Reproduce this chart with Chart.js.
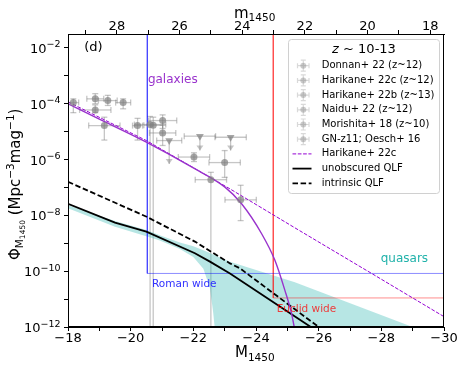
<!DOCTYPE html>
<html>
<head>
<meta charset="utf-8">
<script src="https://cdn.jsdelivr.net/npm/chart.js@4.4.0/dist/chart.umd.min.js"></script>
<style>
  html, body { margin: 0; padding: 0; background: #fff; }
  #wrap { width: 463px; height: 367px; }
</style>
</head>
<body>
<div id="wrap"><canvas id="lf"></canvas></div>
<script>
// axis ranges
const xMin = -30, xMax = -18;
const yMin = 1e-12, yMax = Math.pow(10, -1.5);
const mOffset = 47.56; // m1450 = M1450 + offset
const yLabelExp = [-12, -10, -8, -6, -4, -2];

// galaxy UV LF fit (solid purple)
const galFitM = [-18, -19, -20.5, -22, -23, -23.54, -24.18, -24.6, -24.92, -25.13, -25.22];
const galFitPhi = [1.0e-4, 2.8e-5, 4.2e-6, 5.0e-7, 1.05e-7, 2.6e-8, 2.2e-9, 2.5e-10, 2.1e-11, 3.2e-12, 1e-12];

// Harikane+ 22c double power law (dashed purple)
const harFitM = [-18, -20.5, -23.17, -25.4, -27.69, -30];
const harFitPhi = [1.17e-4, 4.8e-6, 8.9e-8, 2.8e-9, 8.3e-11, 2.35e-12];

// QLFs
const unobsM = [-18, -19.5, -20.5, -22.05, -22.53, -23.17, -25.75];
const unobsPhi = [2.6e-8, 5.5e-9, 2.6e-9, 4.4e-10, 2.2e-10, 8.3e-11, 1e-12];
const intrM = [-18, -20.51, -22.05, -23.17, -23.49, -26.0];
const intrPhi = [1.6e-7, 8.9e-9, 1.15e-9, 1.9e-10, 1.26e-10, 1e-12];

// quasar uncertainty band
const bandM = [-18, -19.5, -20.5, -20.93, -21.57, -22.0, -22.32, -22.53, -22.63, -22.68, -22.72, -23.17, -25.24, -29, -30];
const bandHi = [2.3e-8, 6.3e-9, 3.0e-9, 1.95e-9, 1.07e-9, 7.8e-10, 5.6e-10, 4.5e-10, 4.0e-10, 3.8e-10, 3.6e-10, 2.2e-10, 4.0e-11, 1e-12, 4e-13];
const bandLo = [1.8e-8, 3.9e-9, 1.8e-9, 1.26e-9, 6.3e-10, 3.2e-10, 1.23e-10, 2.5e-11, 3.6e-12, 1e-12, 1e-13, 1e-13, 1e-13, 1e-13, 1e-13];

// survey limits
const romanM = [-20.53, -20.53, -30];
const romanPhi = [yMax, 8.3e-11, 8.3e-11];
const euclidM = [-24.55, -24.55, -30];
const euclidPhi = [yMax, 1.1e-11, 1.1e-11];

// observed galaxy LF points (0 in Lo = error bar down to zero)
const donnanM = [-18.17, -18.87, -19.27, -19.76];
const donnanPhi = [1.1e-4, 1.5e-4, 1.3e-4, 1.1e-4];
const donnanDM = [0.17, 0.27, 0.30, 0.24];
const donnanLo = [4.8e-5, 1.0e-4, 8.7e-5, 6.6e-5];
const donnanHi = [1.5e-4, 2.3e-4, 2.0e-4, 1.5e-4];

const harCM = [-18.87, -19.16, -20.62];
const harCPhi = [6.0e-5, 1.65e-5, 1.8e-5];
const harCDM = [0.5, 0.5, 0.5];
const harCLo = [4.8e-5, 5.0e-6, 0];
const harCHi = [9.1e-5, 3.3e-5, 3.5e-5];

const harBM = [-20.22, -20.72];
const harBPhi = [1.65e-5, 1.7e-5];
const harBDM = [0.16, 0.3];
const harBLo = [5.0e-6, 0];
const harBHi = [3.0e-5, 3.3e-5];

const naiduM = [-21.02, -21.02];
const naiduPhi = [2.5e-5, 9.0e-6];
const naiduDM = [0.45, 0.42];
const naiduLo = [1.3e-5, 3.2e-6];
const naiduHi = [4.0e-5, 1.7e-5];

const morM = [-22.02, -23.0];
const morPhi = [1.23e-6, 7.8e-7];
const morDM = [0.5, 0.5];
const morLo = [8.5e-7, 2.3e-7];
const morHi = [1.75e-6, 2.1e-6];
// Morishita upper limits
const limM = [-21.23, -22.21, -23.19];
const limPhi = [4.8e-6, 6.9e-6, 6.3e-6];
const limDM = [0.4, 0.5, 0.5];
const limTo = [7.0e-7, 2.1e-6, 2.1e-6];

const oeschM = [-22.56, -23.51];
const oeschPhi = [1.9e-7, 3.6e-8];
const oeschDM = [0.5, 0.5];
const oeschLo = [0, 6.5e-9];
const oeschHi = [3.5e-7, 1.2e-7];

const FONT = '"DejaVu Sans", sans-serif';
const ptColor = 'rgba(128,128,128,0.7)';
const errColor = 'rgba(128,128,128,0.45)';

function pts(M, phi) { return M.map((m, i) => ({ x: m, y: phi[i] })); }
function range(a, b) { const r = []; for (let v = a; v <= b; v++) r.push({ value: v }); return r; }

function lineSet(label, M, phi, color, width, dash, order, extra) {
  return Object.assign({
    label: label, data: pts(M, phi), borderColor: color, borderWidth: width, borderDash: dash,
    pointRadius: 0, showLine: true, fill: false, tension: 0, order: order
  }, extra || {});
}
function pointSet(label, M, phi, dM, lo, hi, legend) {
  return {
    label: label, data: pts(M, phi), showLine: false, pointStyle: 'circle', pointRadius: 3.5,
    pointBackgroundColor: ptColor, pointBorderWidth: 0, order: 1,
    err: { dM: dM, lo: lo, hi: hi }, legendKind: legend ? 'marker' : null
  };
}

const datasets = [
  { label: 'band hi', data: pts(bandM, bandHi), borderWidth: 0, pointRadius: 0, showLine: true,
    fill: '+1', backgroundColor: 'rgba(32,178,170,0.32)', order: 10 },
  { label: 'band lo', data: pts(bandM, bandLo), borderWidth: 0, pointRadius: 0, showLine: true, fill: false, order: 10 },
  lineSet('Roman', romanM, romanPhi, 'rgba(0,0,255,0.45)', 1, [], 9),
  lineSet('Euclid', euclidM, euclidPhi, 'rgba(255,0,0,0.45)', 1, [], 9),
  lineSet('galaxy fit', galFitM, galFitPhi, '#9932cc', 1.4, [], 4, { cubicInterpolationMode: 'monotone' }),
  lineSet('Harikane+ 22c', harFitM, harFitPhi, '#9400d3', 1, [3.7, 1.6], 4, { legendKind: 'line' }),
  lineSet('unobscured QLF', unobsM, unobsPhi, '#000', 1.8, [], 5, { legendKind: 'line' }),
  lineSet('intrinsic QLF', intrM, intrPhi, '#000', 1.8, [5.5, 2.6], 5, { legendKind: 'line' }),
  pointSet('Donnan+ 22 (z~12)', donnanM, donnanPhi, donnanDM, donnanLo, donnanHi, true),
  pointSet('Harikane+ 22c (z~12)', harCM, harCPhi, harCDM, harCLo, harCHi, true),
  pointSet('Harikane+ 22b (z~13)', harBM, harBPhi, harBDM, harBLo, harBHi, true),
  pointSet('Naidu+ 22 (z~12)', naiduM, naiduPhi, naiduDM, naiduLo, naiduHi, true),
  pointSet('Morishita+ 18 (z~10)', morM, morPhi, morDM, morLo, morHi, true),
  pointSet('GN-z11; Oesch+ 16', oeschM, oeschPhi, oeschDM, oeschLo, oeschHi, true),
  { label: 'Morishita limits', data: pts(limM, limPhi), showLine: false, pointStyle: 'triangle', pointRotation: 180,
    pointRadius: 4.5, pointBackgroundColor: ptColor, pointBorderWidth: 0, order: 1,
    err: { dM: limDM, to: limTo } }
];

// legend order as in the figure
const legendOrder = [8, 9, 10, 11, 12, 13, 5, 6, 7];

// error bars, drawn under the datasets
const errorBars = {
  id: 'errorBars',
  beforeDatasetsDraw(chart) {
    const { ctx, chartArea: a, scales: { x, y } } = chart;
    ctx.save();
    ctx.beginPath(); ctx.rect(a.left, a.top, a.right - a.left, a.bottom - a.top); ctx.clip();
    ctx.strokeStyle = errColor; ctx.fillStyle = errColor; ctx.lineWidth = 1.3;
    const seg = (x0, y0, x1, y1) => { ctx.beginPath(); ctx.moveTo(x0, y0); ctx.lineTo(x1, y1); ctx.stroke(); };
    chart.data.datasets.forEach(ds => {
      if (!ds.err) return;
      const e = ds.err;
      ds.data.forEach((p, i) => {
        const px = x.getPixelForValue(p.x), py = y.getPixelForValue(p.y);
        const x0 = x.getPixelForValue(p.x - e.dM[i]), x1 = x.getPixelForValue(p.x + e.dM[i]);
        seg(x0, py, x1, py); seg(x0, py - 3, x0, py + 3); seg(x1, py - 3, x1, py + 3);
        if (e.hi) {
          const yh = y.getPixelForValue(e.hi[i]);
          const yl = e.lo[i] > 0 ? y.getPixelForValue(e.lo[i]) : a.bottom + 5;
          seg(px, yh, px, yl); seg(px - 3, yh, px + 3, yh); seg(px - 3, yl, px + 3, yl);
        }
        if (e.to) {
          const yt = y.getPixelForValue(e.to[i]);
          seg(px, py, px, yt);
          ctx.beginPath(); ctx.moveTo(px - 3.5, yt - 5); ctx.lineTo(px + 3.5, yt - 5); ctx.lineTo(px, yt); ctx.closePath(); ctx.fill();
        }
      });
    });
    ctx.restore();
  }
};

function drawParts(ctx, parts, x, y) {
  let cx = x;
  parts.forEach(p => {
    ctx.font = (p.italic ? 'italic ' : '') + p.size + 'px ' + FONT;
    ctx.fillText(p.t, cx, y + (p.dy || 0));
    cx += ctx.measureText(p.t).width;
  });
}
function partsWidth(ctx, parts) {
  let w = 0;
  parts.forEach(p => { ctx.font = (p.italic ? 'italic ' : '') + p.size + 'px ' + FONT; w += ctx.measureText(p.t).width; });
  return w;
}

// frame, tick labels of the log axis, text labels, axis titles and legend
const decorations = {
  id: 'decorations',
  afterDraw(chart) {
    const { ctx, chartArea: a, scales: { x, y } } = chart;
    ctx.save();
    ctx.strokeStyle = '#000'; ctx.lineWidth = 1;
    ctx.strokeRect(a.left + 0.5, a.top + 0.5, a.right - a.left - 1, a.bottom - a.top - 1);

    // 10^n labels
    ctx.fillStyle = '#000'; ctx.textBaseline = 'alphabetic'; ctx.textAlign = 'left';
    yLabelExp.forEach(e => {
      const py = y.getPixelForValue(Math.pow(10, e));
      const parts = [{ t: '10', size: 13 }, { t: '\u2212' + Math.abs(e), size: 9.5, dy: -5.5 }];
      drawParts(ctx, parts, 60.5 - partsWidth(ctx, parts), py + 5);
    });

    ctx.textBaseline = 'middle';
    const label = (t, M, phi, size, color) => {
      ctx.font = size + 'px ' + FONT; ctx.fillStyle = color;
      ctx.fillText(t, x.getPixelForValue(M), y.getPixelForValue(phi));
    };
    label('(d)', -18.52, 1e-2, 13, '#000');
    label('galaxies', -20.55, Math.pow(10, -3.16), 12, '#9932cc');
    label('quasars', -27.98, Math.pow(10, -9.56), 12, '#20b2aa');
    label('Roman wide', -20.68, Math.pow(10, -10.47), 10.5, '#3030ff');
    label('Euclid wide', -24.66, Math.pow(10, -11.36), 10.5, 'rgba(255,0,0,0.75)');

    // axis titles
    ctx.textBaseline = 'alphabetic'; ctx.fillStyle = '#000';
    drawParts(ctx, [{ t: 'M', size: 15 }, { t: '1450', size: 10.5, dy: 4 }], 235, 357);
    drawParts(ctx, [{ t: 'm', size: 15 }, { t: '1450', size: 10.5, dy: 3 }], 234, 18);
    ctx.save();
    ctx.translate(20, 260); ctx.rotate(-Math.PI / 2);
    drawParts(ctx, [
      { t: '\u03A6', size: 15 }, { t: 'M', size: 10.5, dy: 3 }, { t: '1450', size: 7.5, dy: 5 },
      { t: ' (Mpc', size: 15 }, { t: '\u22123', size: 10.5, dy: -6 }, { t: 'mag', size: 15 },
      { t: '\u22121', size: 10.5, dy: -6 }, { t: ')', size: 15 }
    ], 0, 0);
    ctx.restore();

    // legend
    const lx = 288.5, ly = 39.5, lw = 151, lh = 154;
    ctx.beginPath();
    ctx.roundRect(lx, ly, lw, lh, 3);
    ctx.fillStyle = 'rgba(255,255,255,0.8)'; ctx.fill();
    ctx.strokeStyle = '#d0d0d0'; ctx.lineWidth = 1; ctx.stroke();
    ctx.fillStyle = '#000';
    ctx.textBaseline = 'middle';
    const title = [{ t: 'z', size: 13, italic: true }, { t: ' ~ 10-13', size: 13 }];
    drawParts(ctx, title, lx + lw / 2 - partsWidth(ctx, title) / 2, 50);
    legendOrder.forEach((di, k) => {
      const ds = chart.data.datasets[di];
      const ey = 65.7 + k * 14.7;
      if (ds.legendKind === 'marker') {
        ctx.strokeStyle = 'rgba(128,128,128,0.3)'; ctx.lineWidth = 1.2;
        ctx.beginPath();
        ctx.moveTo(297.5, ey); ctx.lineTo(309, ey);
        ctx.moveTo(303.3, ey - 5.5); ctx.lineTo(303.3, ey + 5.5);
        ctx.moveTo(297.5, ey - 2.5); ctx.lineTo(297.5, ey + 2.5);
        ctx.moveTo(309, ey - 2.5); ctx.lineTo(309, ey + 2.5);
        ctx.moveTo(300.8, ey - 5.5); ctx.lineTo(305.8, ey - 5.5);
        ctx.moveTo(300.8, ey + 5.5); ctx.lineTo(305.8, ey + 5.5);
        ctx.stroke();
        ctx.fillStyle = 'rgba(128,128,128,0.4)';
        ctx.beginPath(); ctx.arc(303.3, ey, 3, 0, Math.PI * 2); ctx.fill();
      } else {
        ctx.strokeStyle = ds.borderColor; ctx.lineWidth = ds.borderWidth;
        ctx.setLineDash(ds.borderDash || []);
        ctx.beginPath(); ctx.moveTo(292.5, ey); ctx.lineTo(311.5, ey); ctx.stroke();
        ctx.setLineDash([]);
      }
      ctx.fillStyle = '#000';
      ctx.font = '10px ' + FONT;
      ctx.fillText(ds.label, 321.7, ey);
    });
    ctx.restore();
  }
};

const tickFont = { family: FONT, size: 13 };
const axisGrid = { drawOnChartArea: false, tickLength: 4, color: '#000', lineWidth: 1 };

new Chart(document.getElementById('lf'), {
  type: 'line',
  data: { datasets: datasets },
  options: {
    responsive: true,
    maintainAspectRatio: false,
    animation: false,
    events: [],
    layout: { padding: { left: 0, right: 19, top: 0, bottom: 0 } },
    plugins: { legend: { display: false }, tooltip: { enabled: false } },
    scales: {
      x: {
        type: 'linear', position: 'bottom', min: xMin, max: xMax, reverse: true,
        afterBuildTicks: s => { s.ticks = range(xMin, xMax); },
        afterFit: s => { s.height = 40; },
        ticks: { autoSkip: false, maxRotation: 0, color: '#000', font: tickFont, padding: 0,
          callback: v => (v % 2 === 0 ? '\u2212' + Math.abs(v) : '') },
        grid: axisGrid, border: { color: '#000' }
      },
      x2: {
        type: 'linear', position: 'top', min: xMin + mOffset, max: xMax + mOffset, reverse: true,
        afterBuildTicks: s => { s.ticks = range(18, 29); },
        afterFit: s => { s.height = 34; },
        ticks: { autoSkip: false, maxRotation: 0, color: '#000', font: tickFont, padding: -4,
          callback: v => (v % 2 === 0 ? String(v) : '') },
        grid: axisGrid, border: { color: '#000' }
      },
      y: {
        type: 'logarithmic', min: yMin, max: yMax,
        afterBuildTicks: s => { const t = []; for (let e = -12; e <= -2; e++) t.push({ value: Math.pow(10, e) }); s.ticks = t; },
        afterFit: s => { s.width = 68; },
        ticks: { display: false },
        grid: axisGrid, border: { color: '#000' }
      }
    }
  },
  plugins: [errorBars, decorations]
});
</script>
</body>
</html>
